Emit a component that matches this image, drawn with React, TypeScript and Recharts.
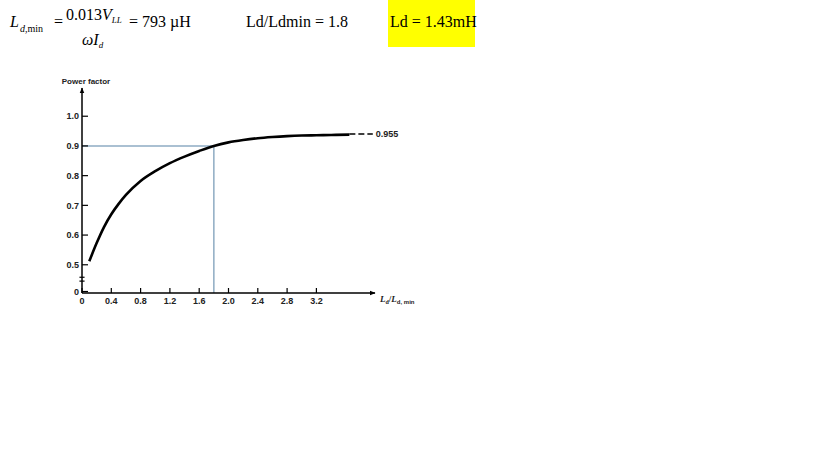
import { LineChart, Line, XAxis, YAxis, ReferenceLine, Label } from "recharts";

// curve (Ld/Ld,min vs power factor)
const ratioValues = [0.1, 0.2, 0.3, 0.4, 0.5, 0.6, 0.8, 1.0, 1.2, 1.4, 1.6, 1.8, 2.0, 2.2, 2.4, 2.6, 2.8, 3.0, 3.2, 3.4, 3.65];
const pfValues = [0.512, 0.573, 0.627, 0.67, 0.705, 0.735, 0.782, 0.815, 0.842, 0.864, 0.883, 0.9, 0.912, 0.92, 0.926, 0.93, 0.933, 0.935, 0.936, 0.937, 0.938];

const xTicks = [0, 0.4, 0.8, 1.2, 1.6, 2.0, 2.4, 2.8, 3.2];
const xTickLabels = ["0", "0.4", "0.8", "1.2", "1.6", "2.0", "2.4", "2.8", "3.2"];
const yTicks = [0.41, 0.5, 0.6, 0.7, 0.8, 0.9, 1.0];
const yTickLabels = ["0", "0.5", "0.6", "0.7", "0.8", "0.9", "1.0"];

// operating point and asymptote
const opRatio = 1.8;
const opPF = 0.9;
const asymStart = 3.65;
const asymEnd = 3.97;
const asymLevel = 0.94;
const asymLabel = "0.955";

const data = ratioValues.map((r, i) => ({ r, pf: pfValues[i] }));

const guide = "#8eabc3";
const tickFont = { fontSize: 9, fill: "#222", fontFamily: "Liberation Sans, Arial, sans-serif", fontWeight: 600 };

const XLabel = (props: any) => {
  const { x, y, width } = props.viewBox;
  return (
    <text x={x + width + 5} y={y + 9} fontFamily="Liberation Serif, serif" fontWeight="bold" fontSize={9} fill="#222">
      <tspan fontStyle="italic">L</tspan>
      <tspan fontSize={6} dy={2}>d</tspan>
      <tspan dy={-2}>/</tspan>
      <tspan fontStyle="italic">L</tspan>
      <tspan fontSize={6} dy={2} fontFamily="Liberation Sans, sans-serif">d, min</tspan>
    </text>
  );
};

const YLabel = (props: any) => {
  const { x, y, width } = props.viewBox;
  return (
    <text x={x + width + 4} y={y - 4} textAnchor="middle" fontSize={8} fontWeight="bold" fill="#222" fontFamily="Liberation Sans, Arial, sans-serif">
      Power factor
    </text>
  );
};

export default function App() {
  return (
    <div style={{ position: "absolute", left: 0, top: 0, width: 819, height: 460, background: "#fff", color: "#000", fontFamily: '"Liberation Serif", "Times New Roman", serif', overflow: "hidden" }}>
      {/* formula line */}
      <div style={{ position: "absolute", left: 10, top: 13, fontSize: 16, lineHeight: "18px", fontStyle: "italic" }}>L</div>
      <div style={{ position: "absolute", left: 20, top: 23, fontSize: 10, lineHeight: "12px" }}>
        <i>d</i>,min
      </div>
      <div style={{ position: "absolute", left: 54, top: 13, fontSize: 16, lineHeight: "18px" }}>=</div>
      <div style={{ position: "absolute", left: 66, top: 6, fontSize: 16, lineHeight: "18px" }}>
        0.013<i>V</i>
        <span style={{ fontSize: 9, fontStyle: "italic", verticalAlign: "-3px" }}>LL</span>
      </div>
      <div style={{ position: "absolute", left: 82, top: 31, fontSize: 16, lineHeight: "18px", fontStyle: "italic" }}>
        ωI<span style={{ fontSize: 9, verticalAlign: "-3px" }}>d</span>
      </div>
      <div style={{ position: "absolute", left: 129, top: 13, fontSize: 16, lineHeight: "18px" }}>= 793 µH</div>
      <div style={{ position: "absolute", left: 246, top: 13, fontSize: 16, lineHeight: "18px" }}>Ld/Ldmin = 1.8</div>
      <div style={{ position: "absolute", left: 388, top: 0, width: 87, height: 47, background: "#ffff00" }} />
      <div style={{ position: "absolute", left: 390, top: 13, fontSize: 16, lineHeight: "18px" }}>Ld = 1.43mH</div>

      <LineChart width={819} height={460} data={data} margin={{ top: 88, right: 444, bottom: 137, left: 42 }} style={{ position: "absolute", left: 0, top: 0 }}>
        <defs>
          <marker id="arrowHead" viewBox="0 0 10 10" refX="9" refY="5" markerWidth="6" markerHeight="6" orient="auto-start-reverse" markerUnits="userSpaceOnUse">
            <path d="M0,1 L10,5 L0,9 Z" fill="#000" />
          </marker>
        </defs>
        <XAxis
          dataKey="r"
          type="number"
          domain={[0, 4]}
          allowDataOverflow
          ticks={xTicks}
          interval={0}
          height={30}
          tickSize={-5}
          tickMargin={10}
          tick={tickFont}
          tickFormatter={(v: number) => xTickLabels[xTicks.indexOf(v)] ?? ""}
          axisLine={{ stroke: "#000", strokeWidth: 1.5, markerEnd: "url(#arrowHead)" }}
          tickLine={{ stroke: "#000", strokeWidth: 1.2 }}
        >
          <Label content={XLabel} />
        </XAxis>
        <YAxis
          type="number"
          domain={[0.405, 1.095]}
          allowDataOverflow
          ticks={yTicks}
          interval={0}
          width={40}
          tickSize={-6}
          tickMargin={9}
          tick={tickFont}
          tickFormatter={(v: number) => yTickLabels[yTicks.indexOf(v)] ?? ""}
          axisLine={{ stroke: "#000", strokeWidth: 1.5, markerStart: "url(#arrowHead)" }}
          tickLine={{ stroke: "#000", strokeWidth: 1.2 }}
        >
          <Label content={YLabel} />
        </YAxis>
        {/* axis break marks */}
        <ReferenceLine segment={[{ x: -0.035, y: 0.458 }, { x: 0.035, y: 0.458 }]} stroke="#000" strokeWidth={1.2} ifOverflow="visible" />
        <ReferenceLine segment={[{ x: -0.035, y: 0.445 }, { x: 0.035, y: 0.445 }]} stroke="#000" strokeWidth={1.2} ifOverflow="visible" />
        <ReferenceLine segment={[{ x: 0, y: opPF }, { x: opRatio, y: opPF }]} stroke={guide} strokeWidth={1.5} />
        <ReferenceLine segment={[{ x: opRatio, y: opPF }, { x: opRatio, y: 0.405 }]} stroke={guide} strokeWidth={1.5} />
        <ReferenceLine
          segment={[{ x: asymStart, y: asymLevel }, { x: asymEnd, y: asymLevel }]}
          stroke="#000"
          strokeWidth={1.5}
          strokeDasharray="6 3"
          ifOverflow="visible"
          label={{ value: asymLabel, position: "right", offset: 3, fontSize: 9, fill: "#222", fontFamily: "Liberation Sans, Arial, sans-serif", fontWeight: 600 }}
        />
        <Line type="monotone" dataKey="pf" stroke="#000" strokeWidth={2.6} dot={false} isAnimationActive={false} />
      </LineChart>
    </div>
  );
}
